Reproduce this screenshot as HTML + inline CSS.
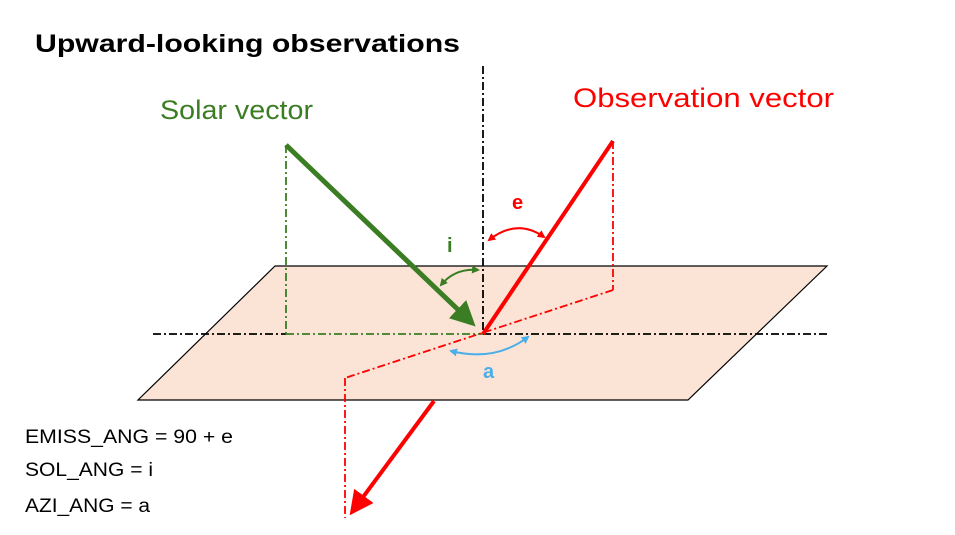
<!DOCTYPE html>
<html><head><meta charset="utf-8"><style>
html,body{margin:0;padding:0;background:#fff;}
svg{display:block;font-family:"Liberation Sans",sans-serif;}
</style></head><body>
<svg width="955" height="535" viewBox="0 0 955 535">
<defs>
<marker id="ga" markerWidth="5" markerHeight="5" refX="4" refY="2.5" orient="auto" markerUnits="strokeWidth"><path d="M0,0 L5,2.5 L0,5 z" fill="#3b7d23"/></marker>
<marker id="ra" markerWidth="6" markerHeight="6" refX="5" refY="3" orient="auto" markerUnits="strokeWidth"><path d="M0,0 L6,3 L0,6 z" fill="#ff0000"/></marker>
<marker id="sr" markerWidth="8" markerHeight="8" refX="6" refY="4" orient="auto-start-reverse" markerUnits="userSpaceOnUse"><path d="M0,0 L8,4 L0,8 z" fill="#ff0000"/></marker>
<marker id="sg" markerWidth="8" markerHeight="8" refX="6" refY="4" orient="auto-start-reverse" markerUnits="userSpaceOnUse"><path d="M0,0 L8,4 L0,8 z" fill="#3b7d23"/></marker>
<marker id="sb" markerWidth="8" markerHeight="8" refX="6" refY="4" orient="auto-start-reverse" markerUnits="userSpaceOnUse"><path d="M0,0 L8,4 L0,8 z" fill="#4aaee8"/></marker>
</defs>
<text x="35" y="52" font-size="25" font-weight="bold" fill="#000" textLength="425" lengthAdjust="spacingAndGlyphs">Upward-looking observations</text>
<polygon points="275,266 827,266 688,400 138,400" fill="#fbe3d6" stroke="#000" stroke-width="1.2"/>
<line x1="483" y1="66" x2="483" y2="334" stroke="#000" stroke-width="1.8" stroke-dasharray="8,3,2,3"/>
<line x1="153" y1="334" x2="286" y2="334" stroke="#000" stroke-width="1.8" stroke-dasharray="8,3,2,3"/>
<line x1="286" y1="334" x2="483" y2="334" stroke="#3b7d23" stroke-width="1.8" stroke-dasharray="8,3,2,3"/>
<line x1="483" y1="334" x2="827" y2="334" stroke="#000" stroke-width="1.8" stroke-dasharray="8,3,2,3"/>
<line x1="286" y1="145" x2="286" y2="334" stroke="#3b7d23" stroke-width="1.8" stroke-dasharray="8,3,2,3"/>
<line x1="613" y1="141" x2="613" y2="290" stroke="#ff0000" stroke-width="1.8" stroke-dasharray="8,3,2,3"/>
<line x1="613" y1="290" x2="345" y2="378" stroke="#ff0000" stroke-width="1.8" stroke-dasharray="8,3,2,3"/>
<line x1="345" y1="378" x2="345" y2="518" stroke="#ff0000" stroke-width="1.8" stroke-dasharray="8,3,2,3"/>
<line x1="286" y1="145" x2="472" y2="323" stroke="#3b7d23" stroke-width="5" marker-end="url(#ga)"/>
<line x1="613" y1="141" x2="483" y2="334" stroke="#ff0000" stroke-width="4"/>
<line x1="434" y1="401" x2="352" y2="512" stroke="#ff0000" stroke-width="4" marker-end="url(#ra)"/>
<path d="M489,240 Q517,218 544,237" fill="none" stroke="#ff0000" stroke-width="2" marker-start="url(#sr)" marker-end="url(#sr)"/>
<path d="M441,285 Q455,268 478,270" fill="none" stroke="#3b7d23" stroke-width="2" marker-start="url(#sg)" marker-end="url(#sg)"/>
<path d="M451,351 Q495,362 528,337" fill="none" stroke="#4aaee8" stroke-width="2" marker-start="url(#sb)" marker-end="url(#sb)"/>
<text x="160" y="119" font-size="27" fill="#3b7d23" textLength="153" lengthAdjust="spacingAndGlyphs">Solar vector</text>
<text x="573" y="107" font-size="27" fill="#ff0000" textLength="261" lengthAdjust="spacingAndGlyphs">Observation vector</text>
<text x="512" y="209" font-size="20" font-weight="bold" fill="#ff0000">e</text>
<text x="447" y="252" font-size="20" font-weight="bold" fill="#3b7d23">i</text>
<text x="483" y="378" font-size="20" font-weight="bold" fill="#4aaee8">a</text>
<text x="25" y="443" font-size="19" fill="#000" textLength="208" lengthAdjust="spacingAndGlyphs">EMISS_ANG = 90 + e</text>
<text x="25" y="476" font-size="19" fill="#000" textLength="128" lengthAdjust="spacingAndGlyphs">SOL_ANG = i</text>
<text x="25" y="512" font-size="19" fill="#000" textLength="125" lengthAdjust="spacingAndGlyphs">AZI_ANG = a</text>
</svg>
</body></html>
